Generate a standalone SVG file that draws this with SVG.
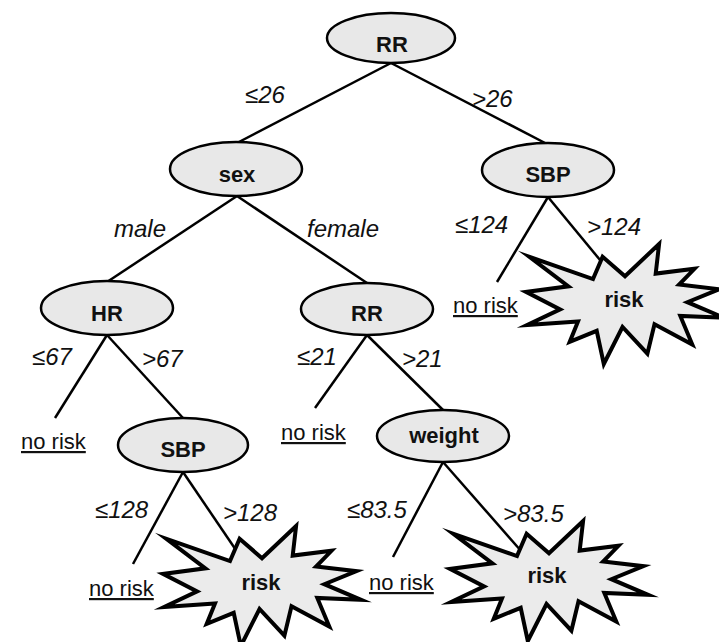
<svg xmlns="http://www.w3.org/2000/svg" width="719" height="642" viewBox="0 0 719 642">
<style>
.node{fill:#e8e8e8;stroke:#000;stroke-width:2.5}
.star{fill:#ebebeb;stroke:#000;stroke-width:4;stroke-linejoin:miter;stroke-miterlimit:10}
.edge{stroke:#000;stroke-width:2.5;fill:none}
.nl{font-family:"Liberation Sans",Arial,sans-serif;font-weight:bold;font-size:22px;fill:#111;text-anchor:middle}
.el{font-family:"Liberation Sans",Arial,sans-serif;font-style:italic;font-size:24px;fill:#111}
.nr{font-family:"Liberation Sans",Arial,sans-serif;font-size:22px;fill:#111;text-decoration:underline}
</style>
<defs>
<path id="seal" d="M99,32.2 L133.1,0 L129.7,29.6 L168.5,24.8 L153.1,40.6 L193.4,45.2 L161.4,58.2 L198,73.8 L154.3,71.9 L166.3,100.5 L128.5,80.3 L121.4,109.7 L96.5,83 L77.8,120 L70.7,86.8 L43.7,97.9 L52,77.4 L1.2,81 L34.1,65.4 L0,47.9 L42.4,42.3 L3.4,12.8 L67,35.1 L76.6,12.8 Z"/>
</defs>
<rect width="719" height="642" fill="#fff"/>
<g id="connectors">
<line class="edge" x1="391" y1="63" x2="237" y2="143"/>
<line class="edge" x1="391" y1="63" x2="547" y2="144"/>
<line class="edge" x1="237" y1="196" x2="107" y2="282"/>
<line class="edge" x1="237" y1="196" x2="367" y2="283"/>
<line class="edge" x1="107" y1="335" x2="55" y2="418"/>
<line class="edge" x1="107" y1="335" x2="183" y2="418"/>
<line class="edge" x1="367" y1="335" x2="315" y2="408"/>
<line class="edge" x1="367" y1="335" x2="443" y2="410"/>
<line class="edge" x1="548" y1="197" x2="497" y2="282"/>
<line class="edge" x1="548" y1="197" x2="605" y2="266"/>
<line class="edge" x1="183" y1="472" x2="133" y2="564"/>
<line class="edge" x1="183" y1="472" x2="240" y2="556"/>
<line class="edge" x1="443" y1="462" x2="393" y2="557"/>
<line class="edge" x1="443" y1="462" x2="522" y2="552"/>
<text class="el" x="245" y="103">≤26</text>
<text class="el" x="472" y="107">&gt;26</text>
<text class="el" x="114" y="237">male</text>
<text class="el" x="307" y="237">female</text>
<text class="el" x="32" y="365">≤67</text>
<text class="el" x="142" y="367">&gt;67</text>
<text class="el" x="297" y="365">≤21</text>
<text class="el" x="402" y="367">&gt;21</text>
<text class="el" x="455" y="233">≤124</text>
<text class="el" x="587" y="235">&gt;124</text>
<text class="el" x="95" y="518">≤128</text>
<text class="el" x="223" y="521">&gt;128</text>
<text class="el" x="347" y="518">≤83.5</text>
<text class="el" x="503" y="522">&gt;83.5</text>
</g>
<g id="n-rr"><ellipse class="node" cx="391" cy="38" rx="64" ry="25"/><text class="nl" x="392" y="52">RR</text></g>
<g id="n-sex"><ellipse class="node" cx="236" cy="169" rx="66" ry="27"/><text class="nl" x="237" y="182">sex</text></g>
<g id="n-sbp1"><ellipse class="node" cx="548" cy="170" rx="66" ry="27"/><text class="nl" x="548" y="182">SBP</text></g>
<g id="n-hr"><ellipse class="node" cx="107" cy="308" rx="66" ry="27"/><text class="nl" x="107" y="321">HR</text></g>
<g id="n-rr2"><ellipse class="node" cx="367" cy="309" rx="66" ry="26"/><text class="nl" x="367" y="321">RR</text></g>
<g id="n-sbp2"><ellipse class="node" cx="183" cy="445" rx="65" ry="27"/><text class="nl" x="183" y="457">SBP</text></g>
<g id="n-weight"><ellipse class="node" cx="443" cy="436" rx="66" ry="26"/><text class="nl" x="444" y="443">weight</text></g>
<g id="n-norisk1"><text class="nr" x="453" y="313">no risk</text></g>
<g id="n-norisk2"><text class="nr" x="21" y="449">no risk</text></g>
<g id="n-norisk3"><text class="nr" x="281" y="440">no risk</text></g>
<g id="n-norisk4"><text class="nr" x="89" y="596">no risk</text></g>
<g id="n-norisk5"><text class="nr" x="369" y="590">no risk</text></g>
<g id="n-risk1"><use href="#seal" class="star" transform="translate(526,244)"/><text class="nl" x="624" y="307">risk</text></g>
<g id="n-risk2"><use href="#seal" class="star" transform="translate(163,526)"/><text class="nl" x="261" y="590">risk</text></g>
<g id="n-risk3"><use href="#seal" class="star" transform="translate(450,521)"/><text class="nl" x="547" y="583">risk</text></g>
</svg>
